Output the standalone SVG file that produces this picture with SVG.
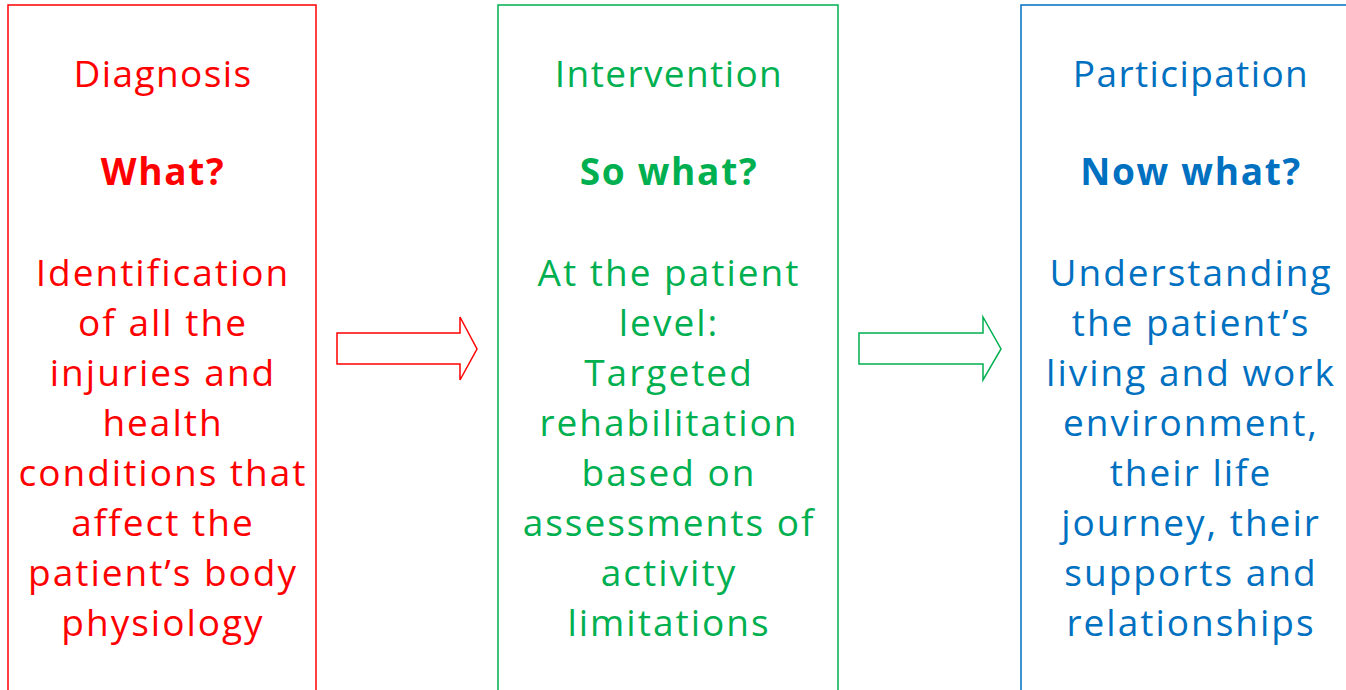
<svg xmlns="http://www.w3.org/2000/svg" width="1346" height="690" viewBox="0 0 1346 690">
<style>
text{font-family:"Open Sans","Noto Sans","DejaVu Sans",sans-serif;font-size:37px;text-anchor:middle;letter-spacing:2px}
.t{letter-spacing:1.4px}
.b{font-weight:bold;letter-spacing:1.7px}
.red{fill:#FF0000}.grn{fill:#00B050}.blu{fill:#0070C0}
.box{fill:#fff;stroke-width:1.5}
.arr{fill:#fff;stroke-width:1.5;stroke-linejoin:miter}
</style>
<rect width="1346" height="690" fill="#fff"/>
<g id="diagnosis">
<rect class="box" x="8" y="5" width="308" height="700" stroke="#FF0000"/>
<text class="red t" x="163" y="87">Diagnosis</text>
<text class="red b" x="163" y="185">What?</text>
<text class="red" x="163" y="286">Identification</text>
<text class="red" x="163" y="336">of all the</text>
<text class="red" x="163" y="386">injuries and</text>
<text class="red" x="163" y="436">health</text>
<text class="red" x="163" y="486">conditions that</text>
<text class="red" x="163" y="536">affect the</text>
<text class="red" x="163" y="586">patient’s body</text>
<text class="red" x="163" y="636">physiology</text>
</g>
<g id="intervention">
<rect class="box" x="498" y="5" width="340" height="700" stroke="#00B050"/>
<text class="grn t" x="669" y="87">Intervention</text>
<text class="grn b" x="669" y="185">So what?</text>
<text class="grn" x="669" y="286">At the patient</text>
<text class="grn" x="669" y="336">level:</text>
<text class="grn" x="669" y="386">Targeted</text>
<text class="grn" x="669" y="436">rehabilitation</text>
<text class="grn" x="669" y="486">based on</text>
<text class="grn" x="669" y="536">assessments of</text>
<text class="grn" x="669" y="586">activity</text>
<text class="grn" x="669" y="636">limitations</text>
</g>
<g id="participation">
<rect class="box" x="1021" y="5" width="340" height="700" stroke="#0070C0"/>
<text class="blu t" x="1191" y="87">Participation</text>
<text class="blu b" x="1191" y="185">Now what?</text>
<text class="blu" x="1191" y="286">Understanding</text>
<text class="blu" x="1191" y="336">the patient’s</text>
<text class="blu" x="1191" y="386">living and work</text>
<text class="blu" x="1191" y="436">environment,</text>
<text class="blu" x="1191" y="486">their life</text>
<text class="blu" x="1191" y="536">journey, their</text>
<text class="blu" x="1191" y="586">supports and</text>
<text class="blu" x="1191" y="636">relationships</text>
</g>
<g id="connectors">
<path class="arr" stroke="#FF0000" d="M337,333 H460 V317 L477,349 L460,380 V364 H337 Z"/>
<path class="arr" stroke="#00B050" d="M859,333 H983 V317 L1001,349 L983,380 V364 H859 Z"/>
</g>
</svg>
